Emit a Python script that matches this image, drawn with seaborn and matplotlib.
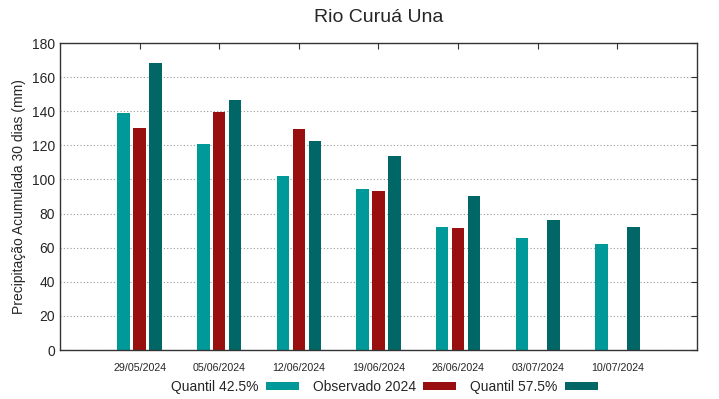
import numpy as np
import pandas as pd
import matplotlib
matplotlib.use("Agg")
import matplotlib.pyplot as plt
import seaborn as sns
from matplotlib.patches import Patch

# Dados
datas = ["29/05/2024", "05/06/2024", "12/06/2024", "19/06/2024",
         "26/06/2024", "03/07/2024", "10/07/2024"]
quantil_425 = [139, 121, 102, 94.5, 72, 65.5, 62]
observado_2024 = [130, 139.5, 129.5, 93, 71.5, np.nan, np.nan]
quantil_575 = [168, 146.5, 122.5, 114, 90.5, 76.5, 72]

series = ["Quantil 42.5%", "Observado 2024", "Quantil 57.5%"]
cores = ["#009999", "#990f0f", "#006666"]

df = pd.DataFrame({
    "data": datas * 3,
    "serie": np.repeat(series, len(datas)),
    "valor": quantil_425 + observado_2024 + quantil_575,
})

sns.set_style("white")
plt.rcParams["font.family"] = ["Liberation Sans", "DejaVu Sans"]

fig = plt.figure(figsize=(7.19, 3.99), dpi=100)
ax = fig.add_axes([0.0834, 0.1228, 0.886, 0.7694])

sns.barplot(data=df, x="data", y="valor", hue="serie", order=datas,
            hue_order=series, palette=cores, width=0.6, gap=0.22,
            errorbar=None, saturation=1, linewidth=0, ax=ax, legend=False)

ax.set_xlim(-1, 7)
ax.set_ylim(0, 180)
ax.set_yticks(range(0, 181, 20))
ax.yaxis.grid(True, linestyle=(0, (1, 2)), color="#999999", linewidth=0.8)
ax.set_axisbelow(True)

ax.tick_params(axis="both", direction="in", top=True, right=True,
               length=4, width=0.8, color="#333333")
ax.tick_params(axis="x", labelsize=7.7, pad=9)
ax.tick_params(axis="y", labelsize=10)
for s in ax.spines.values():
    s.set_color("#333333")
    s.set_linewidth(1)

ax.set_xlabel("")
ax.set_ylabel("Precipitação Acumulada 30 dias (mm)", fontsize=10)
fig.text(0.526, 0.955, "Rio Curuá Una", fontsize=14, ha="center", va="center")

handles = [Patch(facecolor=c, edgecolor="none") for c in cores]
fig.legend(handles, series, loc="center", bbox_to_anchor=(0.535, 0.03),
           ncol=3, frameon=False, markerfirst=False, fontsize=10,
           handlelength=2.4, handleheight=0.5, columnspacing=1.0,
           handletextpad=0.5)

fig.savefig("out.png", dpi=100)
